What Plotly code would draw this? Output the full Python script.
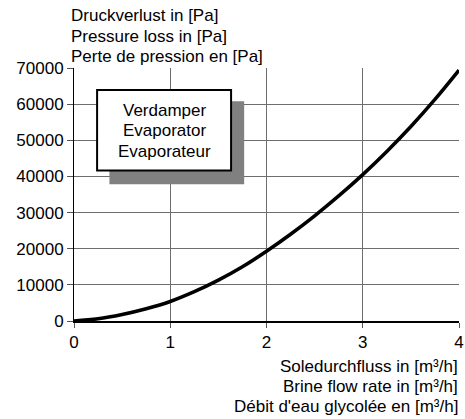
import plotly.graph_objects as go

# Brine flow rate [m3/h] and evaporator pressure loss [Pa]
flow = [0, 0.25, 0.5, 0.75, 1.0, 1.25, 1.5, 1.75, 2.0, 2.25, 2.5, 2.75,
        3.0, 3.25, 3.5, 3.75, 4.0]
pressure_loss = [0, 600, 1800, 3400, 5400, 8100, 11300, 15000, 19300, 24000,
                 29100, 34600, 40500, 46900, 53800, 61300, 69400]

x_ticks = [0, 1, 2, 3, 4]
y_ticks = [0, 10000, 20000, 30000, 40000, 50000, 60000, 70000]

y_title_lines = ["Druckverlust in [Pa]", "Pressure loss in [Pa]", "Perte de pression en [Pa]"]
x_title_lines = ["Soledurchfluss in [m³/h]", "Brine flow rate in [m³/h]",
                 "Débit d'eau glycolée en [m³/h]"]
box_lines = ["Verdamper", "Evaporator", "Evaporateur"]

FONT = "Arial, 'Liberation Sans', sans-serif"
GRID = "#6e6e6e"
TXT = dict(family=FONT, size=17, color="black")

fig = go.Figure()
fig.add_trace(go.Scatter(
    x=flow, y=pressure_loss, mode="lines",
    line=dict(color="black", width=3.5, shape="spline", smoothing=1.0),
    hoverinfo="skip", showlegend=False, cliponaxis=False,
))

fig.update_layout(
    width=465, height=419,
    margin=dict(l=74, r=6, t=68, b=98),
    paper_bgcolor="white", plot_bgcolor="white",
    font=TXT,
    showlegend=False,
    xaxis=dict(
        range=[0, 4], tickvals=x_ticks, ticktext=[str(v) for v in x_ticks],
        showgrid=True, gridcolor=GRID, gridwidth=1,
        showline=True, linecolor="black", linewidth=2,
        ticks="outside", ticklen=5, tickcolor="#555", tickwidth=1,
        zeroline=False, fixedrange=True, automargin=False,
    ),
    yaxis=dict(
        range=[0, 70000], tickvals=y_ticks, ticktext=[str(v) for v in y_ticks],
        showgrid=True, gridcolor=GRID, gridwidth=1,
        showline=True, linecolor="black", linewidth=1,
        ticks="outside", ticklen=6, tickcolor="#555", tickwidth=1,
        zeroline=False, fixedrange=True, automargin=False,
    ),
)

# Label box with drop shadow
fig.add_shape(type="rect", xref="paper", yref="paper",
              x0=0.092, x1=0.442, y0=0.541, y1=0.869,
              fillcolor="#808080", line=dict(width=0), layer="above")
fig.add_shape(type="rect", xref="paper", yref="paper",
              x0=0.060, x1=0.408, y0=0.595, y1=0.913,
              fillcolor="white", line=dict(color="black", width=2), layer="above")
for line_text, shift in zip(box_lines, [-42, -62.5, -83]):
    fig.add_annotation(xref="paper", yref="paper", x=0.234, y=1, yshift=shift,
                       text=line_text, showarrow=False,
                       xanchor="center", yanchor="middle", font=TXT)

# Axis titles, one line per language
for line_text, shift in zip(y_title_lines, [53, 32, 12]):
    fig.add_annotation(xref="paper", yref="paper", x=-0.012, y=1, yshift=shift,
                       text=line_text, showarrow=False,
                       xanchor="left", yanchor="middle", font=TXT)
for line_text, shift in zip(x_title_lines, [-45, -65, -85]):
    fig.add_annotation(xref="paper", yref="paper", x=1.003, y=0, yshift=shift,
                       text=line_text, showarrow=False,
                       xanchor="right", yanchor="middle", font=TXT)

fig.write_html("out.html")
